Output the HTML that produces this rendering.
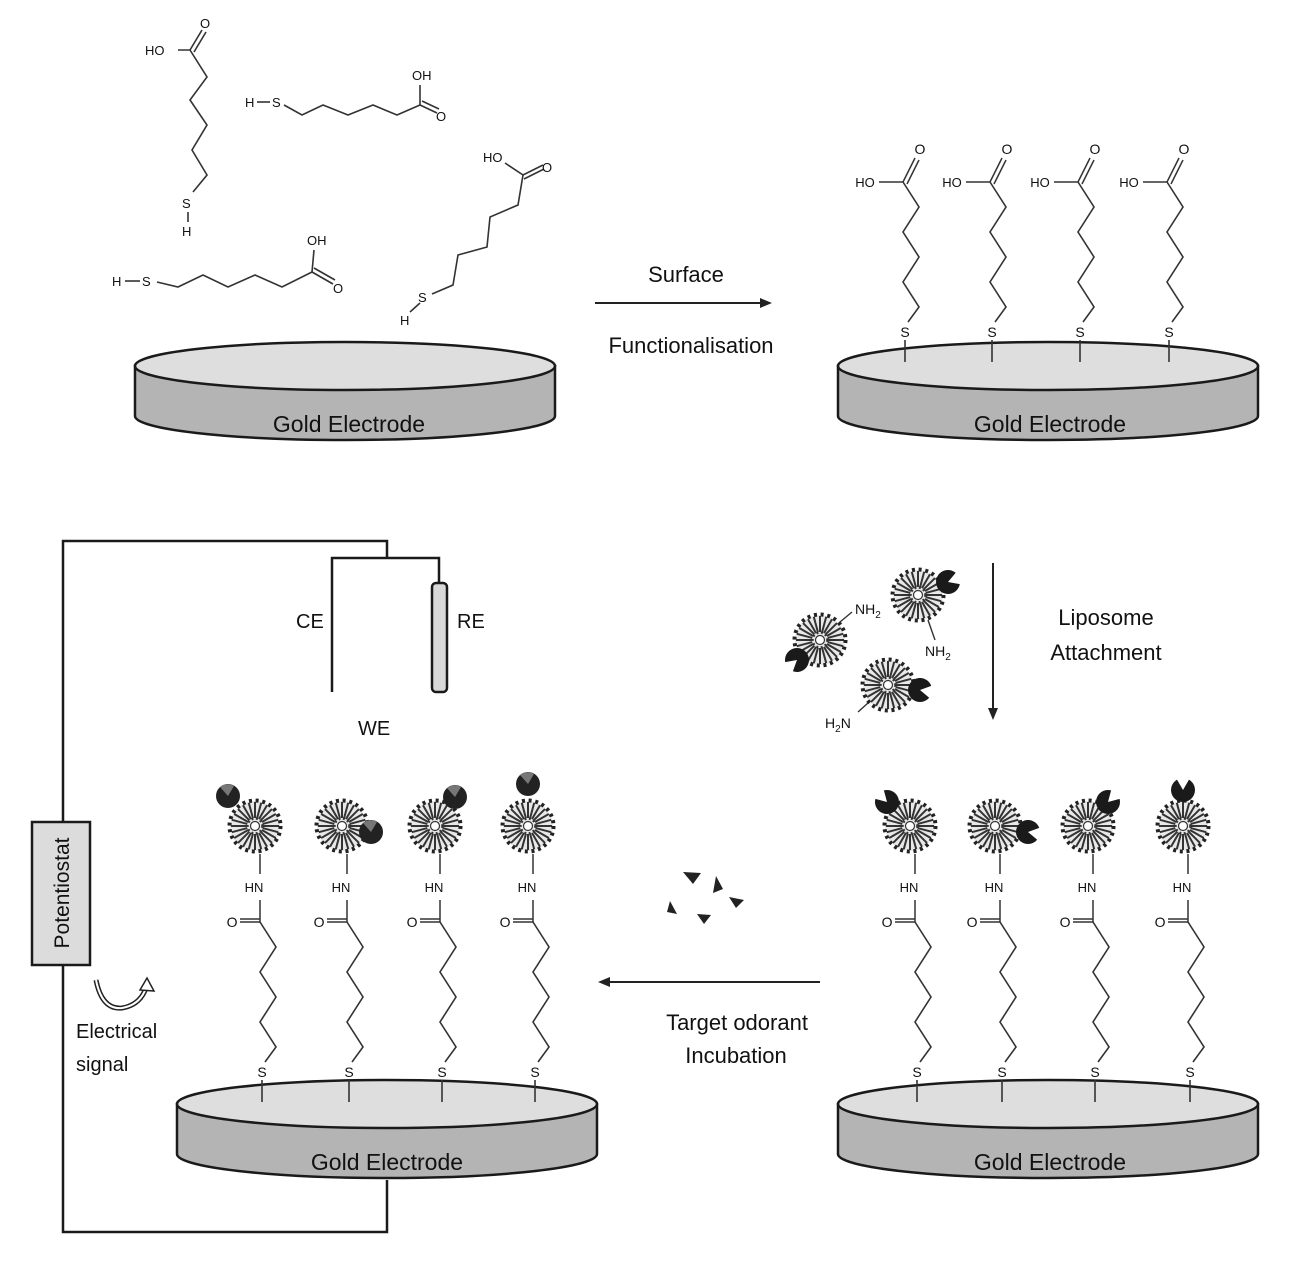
<!DOCTYPE html>
<html><head><meta charset="utf-8"><style>
html,body{margin:0;padding:0;background:#fff}
svg{display:block}
text{font-family:"Liberation Sans",sans-serif;fill:#111}
</style></head><body>
<svg width="1290" height="1280" viewBox="0 0 1290 1280" xmlns="http://www.w3.org/2000/svg">
<defs>
<g id="elec">
<path d="M-210 0 L-210 50 A210 24 0 0 0 210 50 L210 0 Z" fill="#b4b4b4" stroke="#1a1a1a" stroke-width="2.5"/>
<ellipse cx="0" cy="0" rx="210" ry="24" fill="#dedede" stroke="#1a1a1a" stroke-width="2.5"/>
</g>
<g id="zig" fill="none" stroke="#333" stroke-width="1.6">
<polyline points="3,-10 14,-25 -2,-50 14,-75 -2,-100 14,-125 -2,-150"/>
<line x1="0" y1="8" x2="0" y2="30"/>
</g>
<g id="acid">
<use href="#zig"/>
<g stroke="#333" stroke-width="1.5">
<line x1="-2" y1="-150" x2="-26" y2="-150"/>
<line x1="-2" y1="-150" x2="10" y2="-174"/>
<line x1="2" y1="-148" x2="14" y2="-172"/>
</g>
<text x="0" y="5" font-size="14" text-anchor="middle">S</text>
<text x="-40" y="-145" font-size="13" text-anchor="middle">HO</text>
<text x="15" y="-178" font-size="14" text-anchor="middle">O</text>
</g>
<g id="lip">
<circle r="25" fill="#e8e8e8"/>
<g stroke="#333" stroke-width="2">
<line x1="0" y1="-8" x2="0" y2="-24" transform="rotate(0)"/><line x1="0" y1="-8" x2="0" y2="-24" transform="rotate(15)"/><line x1="0" y1="-8" x2="0" y2="-24" transform="rotate(30)"/><line x1="0" y1="-8" x2="0" y2="-24" transform="rotate(45)"/><line x1="0" y1="-8" x2="0" y2="-24" transform="rotate(60)"/><line x1="0" y1="-8" x2="0" y2="-24" transform="rotate(75)"/><line x1="0" y1="-8" x2="0" y2="-24" transform="rotate(90)"/><line x1="0" y1="-8" x2="0" y2="-24" transform="rotate(105)"/><line x1="0" y1="-8" x2="0" y2="-24" transform="rotate(120)"/><line x1="0" y1="-8" x2="0" y2="-24" transform="rotate(135)"/><line x1="0" y1="-8" x2="0" y2="-24" transform="rotate(150)"/><line x1="0" y1="-8" x2="0" y2="-24" transform="rotate(165)"/><line x1="0" y1="-8" x2="0" y2="-24" transform="rotate(180)"/><line x1="0" y1="-8" x2="0" y2="-24" transform="rotate(195)"/><line x1="0" y1="-8" x2="0" y2="-24" transform="rotate(210)"/><line x1="0" y1="-8" x2="0" y2="-24" transform="rotate(225)"/><line x1="0" y1="-8" x2="0" y2="-24" transform="rotate(240)"/><line x1="0" y1="-8" x2="0" y2="-24" transform="rotate(255)"/><line x1="0" y1="-8" x2="0" y2="-24" transform="rotate(270)"/><line x1="0" y1="-8" x2="0" y2="-24" transform="rotate(285)"/><line x1="0" y1="-8" x2="0" y2="-24" transform="rotate(300)"/><line x1="0" y1="-8" x2="0" y2="-24" transform="rotate(315)"/><line x1="0" y1="-8" x2="0" y2="-24" transform="rotate(330)"/><line x1="0" y1="-8" x2="0" y2="-24" transform="rotate(345)"/>
</g>
<circle r="25.5" fill="none" stroke="#222" stroke-width="4" stroke-dasharray="3 3.7"/>
<circle r="7.5" fill="none" stroke="#333" stroke-width="2.5" stroke-dasharray="2 2.5"/>
<circle r="4.5" fill="#fff" stroke="#333" stroke-width="1.2"/>
</g>
<path id="rec" d="M0 0 L10.4 -6 A12 12 0 1 0 10.4 6 Z" fill="#1a1a1a"/>
<g id="ball"><circle r="12" fill="#222"/><path d="M0 0 L-8 -9 A12 12 0 0 1 6 -10 Z" fill="#777"/></g>
<g id="amide">
<use href="#zig"/>
<g stroke="#333" stroke-width="1.5">
<line x1="-2" y1="-150" x2="-2" y2="-172"/>
<line x1="-2" y1="-150" x2="-22" y2="-150"/>
<line x1="-2" y1="-153" x2="-22" y2="-153"/>
<line x1="-2" y1="-198" x2="-2" y2="-218"/>
</g>
<text x="0" y="5" font-size="14" text-anchor="middle">S</text>
<text x="-8" y="-180" font-size="13" text-anchor="middle">HN</text>
<text x="-30" y="-145" font-size="14" text-anchor="middle">O</text>
<use href="#lip" x="-7" y="-246"/>
</g>
</defs>

<!-- free molecules -->
<g fill="none" stroke="#333" stroke-width="1.6">
<polyline points="178,50 190,50 207,77 190,100 207,125 192,150 207,175 193,192"/>
<line x1="190" y1="50" x2="202" y2="30"/><line x1="194" y1="52" x2="206" y2="32"/>
<line x1="188" y1="212" x2="188" y2="222"/>
<polyline points="284,105 302,115 323,105 348,115 373,105 397,115 420,105"/>
<line x1="420" y1="105" x2="420" y2="85"/>
<line x1="420" y1="105" x2="437" y2="113"/><line x1="422" y1="101" x2="439" y2="109"/>
<line x1="257" y1="102" x2="270" y2="102"/>
<polyline points="157,282 178,287 203,275 228,287 255,275 282,287 312,272"/>
<line x1="312" y1="272" x2="314" y2="250"/>
<line x1="312" y1="272" x2="333" y2="284"/><line x1="314" y1="268" x2="335" y2="280"/>
<line x1="125" y1="281" x2="140" y2="281"/>
<polyline points="432,294 453,285 458,255 487,247 490,217 518,205 523,175 505,163"/>
<line x1="523" y1="175" x2="543" y2="165"/><line x1="524" y1="179" x2="544" y2="169"/>
<line x1="420" y1="303" x2="410" y2="312"/>
</g>
<g font-size="13">
<text x="145" y="55">HO</text><text x="200" y="28">O</text>
<text x="182" y="208">S</text><text x="182" y="236">H</text>
<text x="245" y="107">H</text><text x="272" y="107">S</text>
<text x="412" y="80">OH</text><text x="436" y="121">O</text>
<text x="112" y="286">H</text><text x="142" y="286">S</text>
<text x="307" y="245">OH</text><text x="333" y="293">O</text>
<text x="483" y="162">HO</text><text x="542" y="172">O</text>
<text x="418" y="302">S</text><text x="400" y="325">H</text>
</g>

<!-- electrodes -->
<use href="#elec" x="345" y="366"/>
<use href="#elec" x="1048" y="366"/>
<use href="#elec" x="1048" y="1104"/>
<use href="#elec" x="387" y="1104"/>
<g font-size="23" text-anchor="middle">
<text x="349" y="432">Gold Electrode</text>
<text x="1050" y="432">Gold Electrode</text>
<text x="1050" y="1170">Gold Electrode</text>
<text x="387" y="1170">Gold Electrode</text>
</g>

<!-- top-right acid chains -->
<use href="#acid" x="905" y="332"/>
<use href="#acid" x="992" y="332"/>
<use href="#acid" x="1080" y="332"/>
<use href="#acid" x="1169" y="332"/>

<!-- bottom-right -->
<use href="#amide" x="917" y="1072"/>
<use href="#amide" x="1002" y="1072"/>
<use href="#amide" x="1095" y="1072"/>
<use href="#amide" x="1190" y="1072"/>
<use href="#rec" transform="translate(887,802) rotate(-135)"/>
<use href="#rec" transform="translate(1028,832) rotate(10)"/>
<use href="#rec" transform="translate(1108,802) rotate(-45)"/>
<use href="#rec" transform="translate(1183,790) rotate(-90)"/>

<!-- bottom-left -->
<use href="#amide" x="262" y="1072"/>
<use href="#amide" x="349" y="1072"/>
<use href="#amide" x="442" y="1072"/>
<use href="#amide" x="535" y="1072"/>
<use href="#ball" x="228" y="796"/>
<use href="#ball" x="371" y="832"/>
<use href="#ball" x="455" y="797"/>
<use href="#ball" x="528" y="784"/>

<!-- free liposomes -->
<use href="#lip" x="820" y="640"/>
<use href="#lip" x="918" y="595"/>
<use href="#lip" x="888" y="685"/>
<use href="#rec" transform="translate(797,660) rotate(140)"/>
<use href="#rec" transform="translate(948,582) rotate(-20)"/>
<use href="#rec" transform="translate(920,690) rotate(10)"/>
<g stroke="#333" stroke-width="1.4">
<line x1="840" y1="622" x2="852" y2="612"/>
<line x1="928" y1="620" x2="935" y2="640"/>
<line x1="868" y1="703" x2="858" y2="712"/>
</g>
<g font-size="14">
<text x="855" y="614">NH<tspan font-size="10" dy="4">2</tspan></text>
<text x="925" y="656">NH<tspan font-size="10" dy="4">2</tspan></text>
<text x="825" y="728">H<tspan font-size="10" dy="4">2</tspan><tspan dy="-4">N</tspan></text>
</g>

<!-- odorants -->
<g fill="#222">
<path d="M683 872 L701 873 L693 884 Z"/>
<path d="M716 876 L723 889 L713 893 Z"/>
<path d="M729 897 L744 900 L736 908 Z"/>
<path d="M670 901 L677 914 L667 912 Z"/>
<path d="M697 914 L711 915 L704 924 Z"/>
</g>

<!-- arrows -->
<g stroke="#222" stroke-width="2" fill="none">
<line x1="595" y1="303" x2="764" y2="303"/>
<line x1="993" y1="563" x2="993" y2="712"/>
<line x1="820" y1="982" x2="606" y2="982"/>
</g>
<g fill="#222">
<path d="M772 303 L760 298 L760 308 Z"/>
<path d="M993 720 L988 708 L998 708 Z"/>
<path d="M598 982 L610 977 L610 987 Z"/>
</g>
<g font-size="22" text-anchor="middle">
<text x="686" y="282">Surface</text>
<text x="691" y="353">Functionalisation</text>
<text x="1106" y="625">Liposome</text>
<text x="1106" y="660">Attachment</text>
<text x="737" y="1030">Target odorant</text>
<text x="736" y="1063">Incubation</text>
</g>

<!-- circuit -->
<g stroke="#1a1a1a" stroke-width="2.5" fill="none">
<polyline points="387,1180 387,1232 63,1232 63,541 387,541 387,558"/>
<polyline points="332,692 332,558 439,558 439,583"/>
</g>
<rect x="432" y="583" width="15" height="109" rx="4" fill="#d8d8d8" stroke="#1a1a1a" stroke-width="2.5"/>
<g font-size="20">
<text x="296" y="628">CE</text>
<text x="457" y="628">RE</text>
<text x="358" y="735">WE</text>
</g>
<rect x="32" y="822" width="58" height="143" fill="#dcdcdc" stroke="#1a1a1a" stroke-width="2.5"/>
<text transform="translate(69,893) rotate(-90)" font-size="21" text-anchor="middle">Potentiostat</text>
<path d="M96 980 Q102 1010 122 1008 Q140 1005 146 988" fill="none" stroke="#222" stroke-width="5"/>
<path d="M96 980 Q102 1010 122 1008 Q140 1005 146 988" fill="none" stroke="#fff" stroke-width="2"/>
<path d="M140 990 L147 978 L154 991 Z" fill="#fff" stroke="#222" stroke-width="1.5"/>
<g font-size="20">
<text x="76" y="1038">Electrical</text>
<text x="76" y="1071">signal</text>
</g>
</svg>
</body></html>
